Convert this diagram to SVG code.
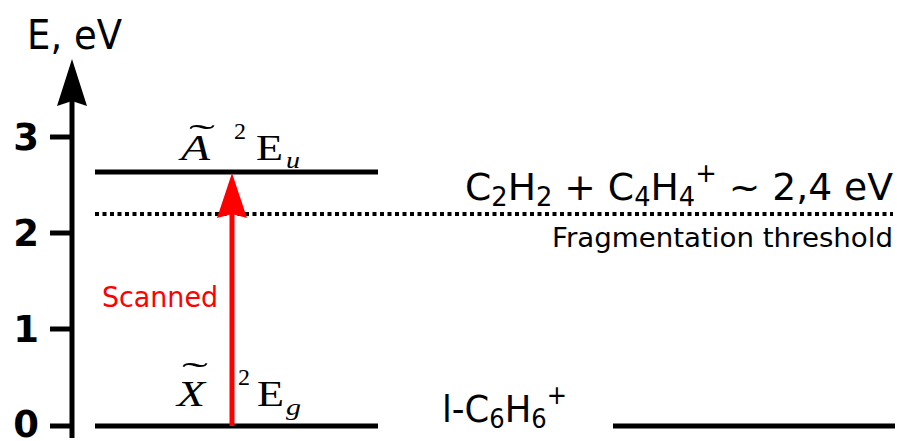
<svg xmlns="http://www.w3.org/2000/svg" width="897" height="441" viewBox="0 0 897 441">
<style>
.lvl{stroke:#000;stroke-width:5;fill:none}
.sans{font-family:"DejaVu Sans","Liberation Sans",sans-serif;fill:#000}
.tick{font-family:"DejaVu Sans","Liberation Sans",sans-serif;font-weight:bold;font-size:37px;fill:#000;text-anchor:middle}
.serif{font-family:"Liberation Serif","Times New Roman",serif;fill:#000}
.it{font-style:italic}
</style>
<rect width="897" height="441" fill="#fff"/>
<g id="axis">
<line class="lvl" x1="72" y1="100" x2="72" y2="438"/>
<path d="M72,59 L87,106 L72,101 L57,106 Z" fill="#000"/>
<line class="lvl" x1="50" y1="137" x2="72" y2="137"/>
<line class="lvl" x1="50" y1="233" x2="72" y2="233"/>
<line class="lvl" x1="50" y1="329" x2="72" y2="329"/>
<line class="lvl" x1="50" y1="426" x2="72" y2="426"/>
<text class="sans" x="27" y="49" font-size="40" textLength="95" lengthAdjust="spacingAndGlyphs">E, eV</text>
<text class="tick" x="26" y="150">3</text>
<text class="tick" x="26" y="246">2</text>
<text class="tick" x="26" y="342">1</text>
<text class="tick" x="26" y="437">0</text>
</g>
<g id="state-A">
<line class="lvl" x1="95" y1="172" x2="378" y2="172"/>
<text class="serif it" x="181" y="160" font-size="36" textLength="29" lengthAdjust="spacingAndGlyphs">A</text>
<text class="serif" x="189" y="148" font-size="34" textLength="26" lengthAdjust="spacingAndGlyphs">˜</text>
<text class="serif" x="234" y="139" font-size="24" textLength="12" lengthAdjust="spacingAndGlyphs">2</text>
<text class="serif" x="256" y="160" font-size="36" textLength="27" lengthAdjust="spacingAndGlyphs">E</text>
<text class="serif it" x="286" y="168" font-size="24" textLength="14" lengthAdjust="spacingAndGlyphs">u</text>
</g>
<g id="state-X">
<line class="lvl" x1="95" y1="426" x2="378" y2="426"/>
<text class="serif it" x="177" y="406" font-size="36" textLength="28" lengthAdjust="spacingAndGlyphs">X</text>
<text class="serif" x="182" y="386" font-size="34" textLength="26" lengthAdjust="spacingAndGlyphs">˜</text>
<text class="serif" x="238" y="385" font-size="24" textLength="12" lengthAdjust="spacingAndGlyphs">2</text>
<text class="serif" x="257" y="406" font-size="36" textLength="27" lengthAdjust="spacingAndGlyphs">E</text>
<text class="serif it" x="286" y="415" font-size="24" textLength="15" lengthAdjust="spacingAndGlyphs">g</text>
</g>
<g id="threshold">
<line x1="95" y1="214" x2="893" y2="214" stroke="#000" stroke-width="4" stroke-dasharray="4 3.5"/>
<text class="sans" x="465" y="200" font-size="38" textLength="428" lengthAdjust="spacingAndGlyphs">C<tspan font-size="26" dy="6">2</tspan><tspan dy="-6">H</tspan><tspan font-size="26" dy="6">2</tspan><tspan dy="-6"> + C</tspan><tspan font-size="26" dy="6">4</tspan><tspan dy="-6">H</tspan><tspan font-size="26" dy="6">4</tspan><tspan font-size="26" dy="-24">+</tspan><tspan dy="18"> ~ 2,4 eV</tspan></text>
<text class="sans" x="552" y="247" font-size="26" textLength="341" lengthAdjust="spacingAndGlyphs">Fragmentation threshold</text>
</g>
<g id="state-lC6H6">
<line class="lvl" x1="613" y1="426" x2="895" y2="426"/>
<text class="sans" x="442" y="422" font-size="38" textLength="125" lengthAdjust="spacingAndGlyphs">l-C<tspan font-size="26" dy="6">6</tspan><tspan dy="-6">H</tspan><tspan font-size="26" dy="6">6</tspan><tspan font-size="26" dy="-24">+</tspan></text>
</g>
<g id="connectors">
<line x1="232" y1="426" x2="232" y2="212" stroke="#f00" stroke-width="5"/>
<path d="M232,173 L247,218 L232,214 L217,218 Z" fill="#f00"/>
<text x="102" y="307" font-size="29" font-family="DejaVu Sans, Liberation Sans, sans-serif" fill="#f00" textLength="116" lengthAdjust="spacingAndGlyphs">Scanned</text>
</g>
</svg>
